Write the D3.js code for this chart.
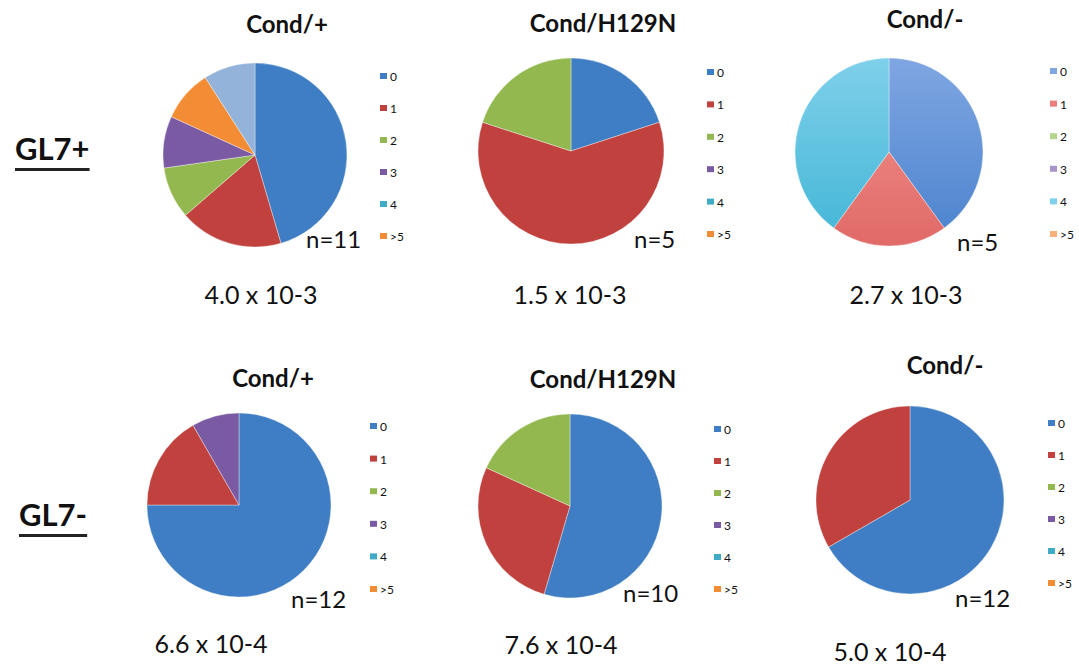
<!DOCTYPE html>
<html>
<head>
<meta charset="utf-8">
<script src="https://cdn.jsdelivr.net/npm/d3@7"></script>
<style>
  html, body { margin: 0; padding: 0; background: #fff; }
  svg { display: block; }
  text { font-family: Lato, "Open Sans", sans-serif; fill: #111; }
</style>
</head>
<body>
<svg id="chart" width="1079" height="665"></svg>
<script>
// Slice categories (mutation counts); the seventh has no legend entry
const categories = ["0", "1", "2", "3", "4", ">5", "other"];
const legendCategories = ["0", "1", "2", "3", "4", ">5"];

// Slice counts per group, in category order
const gl7PosCondPlus  = [5, 2, 1, 1, 0, 1, 1];
const gl7PosH129N     = [1, 3, 1, 0, 0, 0, 0];
const gl7PosCondMinus = [2, 1, 0, 0, 2, 0, 0];
const gl7NegCondPlus  = [9, 2, 0, 1, 0, 0, 0];
const gl7NegH129N     = [6, 3, 2, 0, 0, 0, 0];
const gl7NegCondMinus = [8, 4, 0, 0, 0, 0, 0];

const titles   = ["Cond/+", "Cond/H129N", "Cond/-", "Cond/+", "Cond/H129N", "Cond/-"];
const nLabels  = ["n=11", "n=5", "n=5", "n=12", "n=10", "n=12"];
const freqs    = ["4.0 x 10-3", "1.5 x 10-3", "2.7 x 10-3", "6.6 x 10-4", "7.6 x 10-4", "5.0 x 10-4"];
const rowLabels = ["GL7+", "GL7-"];

// Palettes: standard and pastel
const paletteStd   = ["#3f7ec4", "#c0413d", "#93b84f", "#7a5aa3", "#3fabc6", "#f28d35", "#93b3da"];
const palettePale  = ["#7fa6e2", "#ea7f7c", "#b6d58f", "#a994c9", "#7fd0ea", "#f7b07a", "#b8cdea"];
const palettePaleD = ["#4f86cf", "#e06a67", "#a3c877", "#9580bd", "#48b8d8", "#f39b5c", "#9db9e0"];

const panels = [
  { values: gl7PosCondPlus,  cx: 255, cy: 155, r: 92, pale: false,
    title: [287, 33], n: [306, 248], freq: [261, 304], leg: [380, 77, 32] },
  { values: gl7PosH129N,     cx: 571, cy: 151, r: 93, pale: false,
    title: [603, 32], n: [634, 248], freq: [570, 304], leg: [707, 73, 32.4] },
  { values: gl7PosCondMinus, cx: 889, cy: 152, r: 94, pale: true,
    title: [925, 28], n: [957, 251], freq: [906, 304], leg: [1050, 72, 32.6] },
  { values: gl7NegCondPlus,  cx: 239, cy: 505, r: 92, pale: false,
    title: [273, 387], n: [291, 608], freq: [211, 653], leg: [370, 427, 32.6] },
  { values: gl7NegH129N,     cx: 570, cy: 506, r: 92, pale: false,
    title: [603, 388], n: [623, 602], freq: [561, 654], leg: [714, 430, 32] },
  { values: gl7NegCondMinus, cx: 910, cy: 500, r: 94, pale: false,
    title: [945, 374], n: [955, 607], freq: [890, 661], leg: [1048, 424, 32] }
];

const svg = d3.select("#chart");
svg.append("rect").attr("width", 1079).attr("height", 665).attr("fill", "#fff");

// Vertical gradients for the pastel pie
const defs = svg.append("defs");
categories.forEach((c, i) => {
  const g = defs.append("linearGradient")
    .attr("id", "pale" + i)
    .attr("x1", 0).attr("y1", 0).attr("x2", 0).attr("y2", 1);
  g.append("stop").attr("offset", "0%").attr("stop-color", palettePale[i]);
  g.append("stop").attr("offset", "100%").attr("stop-color", palettePaleD[i]);
});

const colorStd = d3.scaleOrdinal().domain(categories).range(paletteStd);
const colorPale = d3.scaleOrdinal().domain(categories).range(palettePale);

const pie = d3.pie().sort(null).value(d => d.value);

panels.forEach((p, k) => {
  const data = categories.map((c, i) => ({ cat: c, idx: i, value: p.values[i] }));
  const arc = d3.arc().innerRadius(0).outerRadius(p.r);
  const g = svg.append("g").attr("transform", `translate(${p.cx},${p.cy})`);

  g.selectAll("path")
    .data(pie(data).filter(d => d.data.value > 0))
    .join("path")
    .attr("d", arc)
    .attr("fill", d => p.pale ? `url(#pale${d.data.idx})` : colorStd(d.data.cat))
    .attr("stroke", "#ffffff")
    .attr("stroke-opacity", 0.45)
    .attr("stroke-width", 0.8);

  // Title
  svg.append("text")
    .attr("x", p.title[0]).attr("y", p.title[1])
    .attr("text-anchor", "middle")
    .attr("font-size", 24).attr("font-weight", 700)
    .text(titles[k]);

  // Sample size
  svg.append("text")
    .attr("x", p.n[0]).attr("y", p.n[1])
    .attr("font-size", 24)
    .text(nLabels[k]);

  // Frequency
  svg.append("text")
    .attr("x", p.freq[0]).attr("y", p.freq[1])
    .attr("text-anchor", "middle")
    .attr("font-size", 25)
    .attr("fill", "#222")
    .text(freqs[k]);

  // Legend
  const [lx, ly, step] = p.leg;
  const lg = svg.append("g");
  const items = lg.selectAll("g")
    .data(legendCategories)
    .join("g")
    .attr("transform", (d, i) => `translate(${lx},${ly + i * step})`);
  items.append("rect")
    .attr("x", 0).attr("y", -4).attr("width", 7).attr("height", 6)
    .attr("fill", d => p.pale ? colorPale(d) : colorStd(d));
  items.append("text")
    .attr("x", 10).attr("y", 4)
    .attr("font-size", 12)
    .attr("fill", "#333")
    .text(d => d);
});

// Row labels with underline
const rowPos = [[15, 160, 168], [19, 526, 534]];
rowLabels.forEach((t, i) => {
  const txt = svg.append("text")
    .attr("x", rowPos[i][0]).attr("y", rowPos[i][1])
    .attr("font-size", 31).attr("font-weight", 700)
    .text(t);
  const w = txt.node().getComputedTextLength();
  svg.append("rect")
    .attr("x", rowPos[i][0]).attr("y", rowPos[i][2])
    .attr("width", w).attr("height", 3)
    .attr("fill", "#222");
});
</script>
</body>
</html>
